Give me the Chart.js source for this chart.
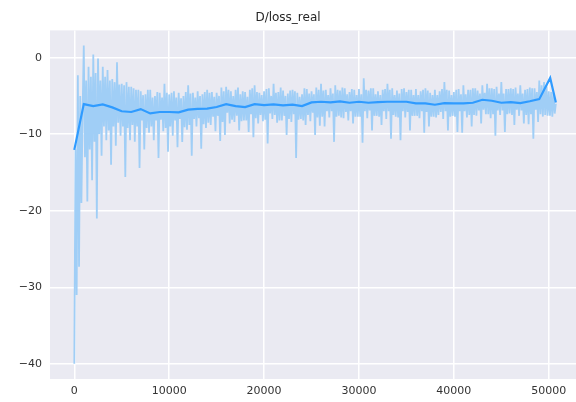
<!DOCTYPE html>
<html>
<head>
<meta charset="utf-8">
<script src="https://cdn.jsdelivr.net/npm/chart.js"></script>
<style>
  html, body { margin: 0; padding: 0; background: #fff; }
  #wrap { position: relative; width: 576px; height: 402px; }
</style>
</head>
<body>
<div id="wrap"><canvas id="lossChart" width="576" height="402"></canvas></div>
<script>
// raw values are logged every rawStep iterations (one row = 1000 iterations)
const rawStep = 125;
const rawLoss = [
  -40, -12, -31, -2.3, -27.3, -5, -19, -7.0,
  1.6, -13, -3, -18.8, -1.2, -12, -2.5, -16.0,
  0.4, -11, -2, -21.0, -0.1, -10, -3, -12.8,
  -1.2, -9, -2.5, -10.8, -1.6, -9.5, -3, -14.0,
  -2.8, -9, -3.2, -11.5, -0.6, -8.5, -3.5, -10.2,
  -3.4, -9, -3.6, -15.6, -3.2, -9.2, -3.8, -10.8,
  -3.8, -8.8, -4.0, -11.0, -4.2, -9.0, -4.2, -14.4,
  -4.4, -8.2, -4.9, -12.0, -4.8, -9.2, -4.2, -9.8,
  -4.2, -9.0, -5.2, -10.8, -5.0, -8.2, -4.5, -13.1,
  -4.6, -8.1, -5.2, -9.6, -3.4, -9.2, -4.6, -12.3,
  -4.8, -9.0, -4.6, -10.2, -4.4, -8.2, -5.2, -11.7,
  -4.6, -8.0, -5.3, -11.0, -5.0, -9.1, -4.5, -9.4,
  -3.6, -8.8, -4.7, -12.8, -4.6, -8.0, -5.2, -9.0,
  -4.4, -7.9, -5.0, -11.9, -4.8, -8.7, -4.5, -9.2,
  -4.2, -8.5, -4.6, -8.8, -4.5, -7.7, -5.1, -9.6,
  -4.6, -7.6, -5.0, -10.9, -3.9, -8.4, -4.4, -10.1,
  -3.8, -7.2, -4.2, -8.6, -4.4, -8.1, -5.0, -8.4,
  -4.2, -7.6, -3.9, -9.5, -4.8, -8.3, -4.4, -8.2,
  -4.5, -8.2, -5.1, -9.7, -4.2, -7.4, -4.0, -10.4,
  -3.6, -7.9, -4.5, -8.6, -4.6, -7.5, -4.9, -8.3,
  -4.4, -8.1, -4.1, -11.2, -4.0, -7.3, -5.0, -8.0,
  -3.4, -7.5, -4.6, -8.5, -4.5, -8.2, -3.9, -8.2,
  -4.3, -7.6, -5.0, -10.1, -4.7, -8.0, -4.3, -8.4,
  -4.2, -7.4, -4.4, -13.1, -4.6, -8.1, -5.1, -8.0,
  -4.8, -8.2, -4.0, -8.8, -4.1, -7.5, -4.7, -8.3,
  -4.4, -7.2, -4.8, -10.1, -3.9, -7.8, -4.2, -8.9,
  -3.4, -7.7, -4.3, -9.0, -4.2, -7.0, -4.9, -7.8,
  -4.0, -7.0, -4.7, -11.0, -3.6, -7.7, -4.2, -7.6,
  -4.3, -7.8, -3.9, -7.9, -4.0, -7.1, -4.8, -8.2,
  -4.5, -7.0, -4.1, -8.6, -4.2, -7.7, -4.9, -7.7,
  -4.1, -7.7, -4.8, -11.1, -2.7, -7.0, -4.2, -7.9,
  -4.3, -6.9, -4.0, -9.5, -4.0, -7.6, -4.8, -7.6,
  -4.4, -7.7, -4.9, -8.8, -4.2, -7.0, -4.1, -8.0,
  -3.4, -7.0, -4.2, -10.6, -4.0, -7.5, -4.9, -7.7,
  -4.3, -7.8, -4.7, -10.8, -4.1, -7.0, -4.0, -7.8,
  -4.5, -7.1, -4.2, -9.5, -4.2, -7.6, -4.9, -7.6,
  -4.1, -7.6, -4.9, -7.9, -4.4, -7.0, -4.2, -9.8,
  -4.0, -7.1, -4.3, -9.0, -4.6, -7.7, -4.9, -7.7,
  -4.2, -7.8, -4.9, -7.5, -4.4, -7.1, -4.1, -8.0,
  -3.2, -7.0, -4.2, -9.5, -4.3, -7.7, -4.9, -7.6,
  -4.5, -7.7, -4.2, -9.7, -4.1, -7.0, -4.8, -9.8,
  -3.6, -7.0, -4.8, -7.8, -4.2, -7.5, -4.2, -9.0,
  -4.0, -7.5, -4.0, -7.6, -4.3, -6.9, -4.7, -8.6,
  -3.6, -6.8, -4.6, -7.4, -3.4, -7.4, -4.0, -7.9,
  -4.0, -7.4, -4.1, -10.2, -3.8, -6.9, -4.7, -7.5,
  -3.2, -6.9, -4.7, -9.7, -4.1, -7.4, -4.1, -7.3,
  -4.0, -7.5, -4.1, -8.8, -3.9, -6.8, -4.7, -7.6,
  -3.6, -6.9, -4.7, -8.6, -4.2, -7.5, -4.1, -8.7,
  -3.9, -7.4, -4.0, -10.6, -4.0, -6.8, -4.5, -8.4,
  -3.0, -7.4, -3.6, -7.7, -3.2, -7.5, -3.8, -7.6,
  -4.4, -7.6, -4.5, -7.7, -4.6, -7.3, -6.0
];
const smoothSteps = [
  0, 1000, 2000, 3000, 4000, 5000, 6000, 7000, 8000, 9000,
  10000, 11000, 12000, 13000, 14000, 15000, 16000, 17000, 18000, 19000,
  20000, 21000, 22000, 23000, 24000, 25000, 26000, 27000, 28000, 29000,
  30000, 31000, 32000, 33000, 34000, 35000, 36000, 37000, 38000, 39000,
  40000, 41000, 42000, 43000, 44000, 45000, 46000, 47000, 48000, 49000,
  50150, 50750
];
const smoothLoss = [
  -12.05, -6.07, -6.33, -6.11, -6.5, -7.0, -7.1, -6.72, -7.28, -7.1,
  -7.1, -7.15, -6.8, -6.7, -6.65, -6.45, -6.07, -6.33, -6.45, -6.07,
  -6.2, -6.11, -6.24, -6.15, -6.33, -5.85, -5.76, -5.85, -5.72, -5.89,
  -5.76, -5.89, -5.82, -5.76, -5.76, -5.76, -5.98, -5.98, -6.15, -5.94,
  -5.98, -5.98, -5.89, -5.5, -5.63, -5.89, -5.81, -5.94, -5.7, -5.42,
  -2.65, -5.85
];
const xTickValues = [0, 10000, 20000, 30000, 40000, 50000];
const yTickValues = [-40, -30, -20, -10, 0];

const rawPoints = rawLoss.map((v, i) => ({x: i * rawStep, y: v}));
const smoothPoints = smoothLoss.map((v, i) => ({x: smoothSteps[i], y: v}));

const plotBg = {
  id: 'plotBg',
  beforeDraw(chart) {
    const a = chart.chartArea, c = chart.ctx;
    c.save();
    c.fillStyle = '#eaeaf2';
    c.fillRect(a.left, a.top, a.right - a.left, a.bottom - a.top);
    c.restore();
  }
};

const minus = v => v < 0 ? '\u2212' + Math.abs(v) : String(v);

new Chart(document.getElementById('lossChart'), {
  type: 'line',
  data: {
    datasets: [
      {data: smoothPoints, borderColor: '#2f9bff', borderWidth: 2.2, pointRadius: 0, tension: 0},
      {data: rawPoints, borderColor: '#a0cef6', borderWidth: 1.8, pointRadius: 0, tension: 0}
    ]
  },
  options: {
    responsive: false,
    animation: false,
    layout: {padding: 0},
    plugins: {
      legend: {display: false},
      tooltip: {enabled: false},
      title: {
        display: true, text: 'D/loss_real', color: '#262626',
        font: {family: 'DejaVu Sans', size: 12, weight: 'normal'},
        padding: {top: 11, bottom: 5}
      }
    },
    scales: {
      x: {
        type: 'linear', min: -2560, max: 52870,
        border: {display: false},
        grid: {color: '#ffffff', lineWidth: 1.5, drawTicks: false},
        ticks: {color: '#333', padding: 6, font: {family: 'DejaVu Sans', size: 11}, callback: minus},
        afterBuildTicks: s => { s.ticks = xTickValues.map(v => ({value: v})); },
        afterFit: s => { s.height = 23; s.paddingLeft = 0; s.paddingRight = 0; }
      },
      y: {
        min: -41.98, max: 3.56,
        border: {display: false},
        grid: {color: '#ffffff', lineWidth: 1.5, drawTicks: false},
        ticks: {color: '#333', padding: 8, font: {family: 'DejaVu Sans', size: 11}, callback: minus},
        afterBuildTicks: s => { s.ticks = yTickValues.map(v => ({value: v})); },
        afterFit: s => { s.width = 50; s.paddingTop = 0; s.paddingBottom = 0; }
      }
    }
  },
  plugins: [plotBg]
});
</script>
</body>
</html>
